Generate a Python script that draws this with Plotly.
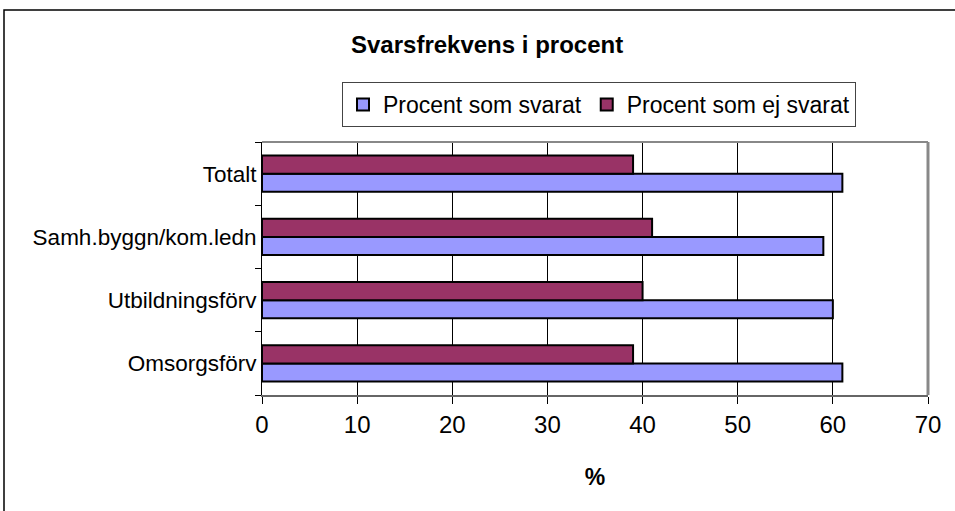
import plotly.graph_objects as go

categories = ["Omsorgsförv", "Utbildningsförv", "Samh.byggn/kom.ledn", "Totalt"]
svarat = [61, 60, 59, 61]
ej_svarat = [39, 40, 41, 39]
x_ticks = [0, 10, 20, 30, 40, 50, 60, 70]

fig = go.Figure()
fig.add_trace(go.Bar(y=categories, x=svarat, orientation="h", name="Procent som svarat",
                     marker=dict(color="#9999FF", line=dict(color="black", width=2))))
fig.add_trace(go.Bar(y=categories, x=ej_svarat, orientation="h", name="Procent som ej svarat",
                     marker=dict(color="#993366", line=dict(color="black", width=2))))

PL, PR, PT, PB = 262, 928, 142, 395
PW, PH = PR - PL, PB - PT

fig.update_layout(
    width=955, height=511,
    margin=dict(l=PL, r=955 - PR, t=PT, b=511 - PB),
    paper_bgcolor="white", plot_bgcolor="white",
    barmode="group", bargap=0.43, bargroupgap=0,
    font=dict(family="Arial, Liberation Sans", color="black"),
    showlegend=True,
    legend=dict(orientation="h", x=(599 - PL) / PW, y=1 + (PT - 82) / PH,
                xanchor="center", yanchor="top",
                bordercolor="#444", borderwidth=1, font=dict(size=23),
                itemwidth=30, tracegroupgap=0),
    xaxis=dict(range=[0, 70], tickvals=x_ticks, ticktext=[str(v) for v in x_ticks],
               showgrid=True, gridcolor="black", gridwidth=1,
               showline=True, linecolor="#666", linewidth=2,
               ticks="outside", ticklen=7, tickcolor="black",
               tickfont=dict(size=24), zeroline=False,
               title=dict(text="<b>%</b>", font=dict(size=23), standoff=32)),
    yaxis=dict(showline=True, linecolor="black", linewidth=1,
               ticks="outside", tickson="boundaries", ticklen=6, tickcolor="black",
               tickfont=dict(size=22.5), showgrid=False),
)

fig.add_shape(type="line", xref="paper", yref="paper", x0=0, x1=1, y0=1, y1=1,
              line=dict(color="#888", width=2))
fig.add_shape(type="line", xref="paper", yref="paper", x0=1, x1=1, y0=0, y1=1,
              line=dict(color="#888", width=3))

# outer chart border
fig.add_shape(type="rect", xref="paper", yref="paper",
              x0=(4 - PL) / PW, x1=(960 - PL) / PW,
              y0=(PB - 520) / PH, y1=(PB - 10) / PH,
              line=dict(color="black", width=1.5), layer="below")

fig.add_annotation(text="<b>Svarsfrekvens i procent</b>", xref="paper", yref="paper",
                   x=(487 - PL) / PW, y=(PB - 44) / PH, showarrow=False,
                   font=dict(size=24), xanchor="center", yanchor="middle")

fig.write_html("out.html", config={"displayModeBar": False},
               post_script="document.body.style.margin='0';document.body.style.overflow='hidden';")
